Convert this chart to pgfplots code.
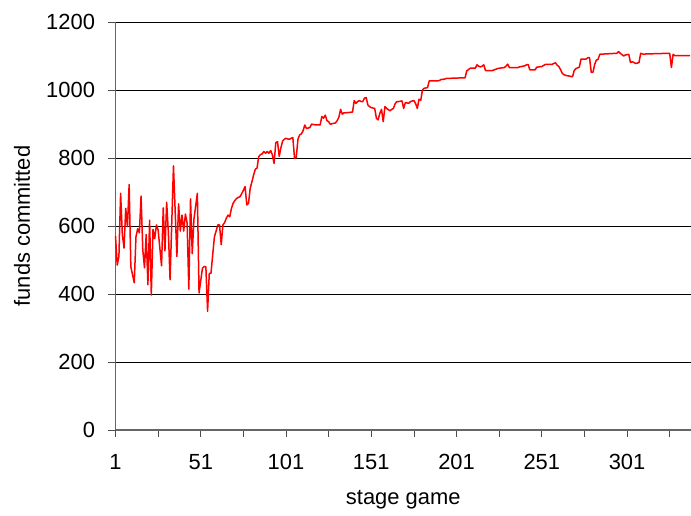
\documentclass[border=0pt]{standalone}
\usepackage{pgfplots}
\pgfplotsset{compat=1.18}
\usepackage{fontspec}
\setmainfont{Liberation Sans}
\begin{document}
\fontsize{22}{26}\selectfont
\begin{tikzpicture}
\path[use as bounding box] (0,0) rectangle (691bp,516bp);
\begin{axis}[
  at={(115.5bp,86bp)}, anchor=south west,
  scale only axis, width=575.5bp, height=408bp,
  xmin=1, xmax=338.5, ymin=0, ymax=1200,
  axis x line*=bottom, axis y line*=left,
  axis line style={black!60, line width=1.1bp},
  ytick={0,200,...,1200},
  xtick={1,26,...,326},
  xticklabels={1,,51,,101,,151,,201,,251,,301,},
  ymajorgrids, grid style={black, line width=0.8bp},
  tick align=outside, major tick length=7bp,
  tick style={black!70, line width=0.8bp},
  /pgf/number format/assume math mode=true,
  /pgf/number format/1000 sep={},
  ticklabel style={font=\fontsize{22}{26}\selectfont},
  yticklabel style={xshift=-6bp},
  xticklabel style={yshift=-10bp},
  xlabel={stage game}, ylabel={funds committed},
  label style={font=\fontsize{22}{26}\selectfont},
  xlabel style={at={(axis description cs:0.5,-0.1710)}, anchor=center},
  ylabel style={at={(axis description cs:-0.1625,0.5)}, anchor=center},
  clip=false,
]
\addplot[red, line width=1.5bp, line join=round] coordinates {
(1,570)(2,485)(3,510)(4,696)(5,575)(6,535)(7,652)(8,598)(9,722)(10,480)
(12,433)(13,568)(14,592)(15,580)(16,688)(17,530)(18,477)(19,575)(20,427)
(21,617)(22,397)(23,590)(24,563)(25,603)(26,588)(28,483)(29,653)(30,527)
(31,670)(32,582)(33,442)(35,777)(37,510)(38,665)(39,585)(40,632)(41,585)
(42,635)(43,609)(44,414)(45,680)(46,519)(47,620)(49,696)(50,403)(52,476)
(53,481)(54,480)(55,349)(56,461)(57,461)(58,515)(59,568)(60,585)(61,603)
(62,603)(63,545)(64,603)(65,610)(66,623)(67,632)(68,627)(69,652)(70,667)
(71,675)(72,681)(73,684)(74,686)(75,695)(76,705)(77,716)(78,662)(79,667)
(80,711)(81,730)(82,750)(83,767)(84,770)(85,804)(86,810)(87,812)(88,819)
(89,814)(90,819)(91,814)(92,822)(93,809)(94,784)(95,845)(96,848)(97,805)
(98,830)(99,850)(100,855)(101,858)(102,856)(103,855)(104,858)(105,860)
(106,799)(107,802)(108,855)(109,868)(110,871)(111,880)(112,897)(113,887)
(114,888)(115,890)(116,900)(117,898)(121,897)(122,922)(123,917)(124,926)
(125,910)(126,907)(127,899)(128,901)(130,903)(131,910)(132,920)(133,943)
(134,929)(135,933)(136,933)(140,935)(141,969)(142,961)(143,966)(144,969)
(145,966)(146,966)(147,976)(148,978)(149,956)(150,951)(151,948)(153,946)
(154,917)(155,912)(156,931)(157,943)(158,907)(159,951)(160,946)(161,942)
(162,939)(163,943)(164,946)(165,960)(166,966)(167,966)(169,968)(170,946)
(171,963)(173,961)(174,966)(176,969)(177,960)(178,946)(179,973)(180,969)
(181,1000)(182,1005)(184,1007)(185,1027)(190,1027)(191,1028)(192,1031)
(194,1032)(195,1034)(206,1036)(207,1056)(208,1060)(209,1064)(212,1064)
(213,1074)(214,1070)(215,1068)(216,1070)(217,1074)(218,1057)(222,1057)
(223,1059)(224,1061)(225,1063)(226,1064)(229,1066)(230,1070)(231,1076)
(232,1066)(237,1066)(238,1068)(240,1070)(241,1071)(242,1074)(243,1075)
(244,1059)(247,1059)(248,1067)(251,1069)(252,1072)(253,1075)(257,1075)
(258,1078)(259,1080)(260,1073)(261,1069)(262,1060)(263,1049)(264,1045)
(265,1043)(269,1039)(270,1057)(271,1063)(272,1065)(273,1067)(274,1091)
(277,1091)(278,1095)(279,1095)(280,1052)(281,1052)(282,1075)(283,1088)
(284,1090)(285,1105)(288,1106)(295,1108)(296,1113)(297,1108)(298,1104)
(299,1100)(300,1103)(302,1105)(303,1081)(304,1083)(305,1081)(306,1078)
(307,1079)(308,1081)(309,1108)(310,1106)(311,1105)(312,1106)(326,1108)
(327,1066)(328,1105)(329,1101)(338,1101)
};
\end{axis}
\end{tikzpicture}
\end{document}
